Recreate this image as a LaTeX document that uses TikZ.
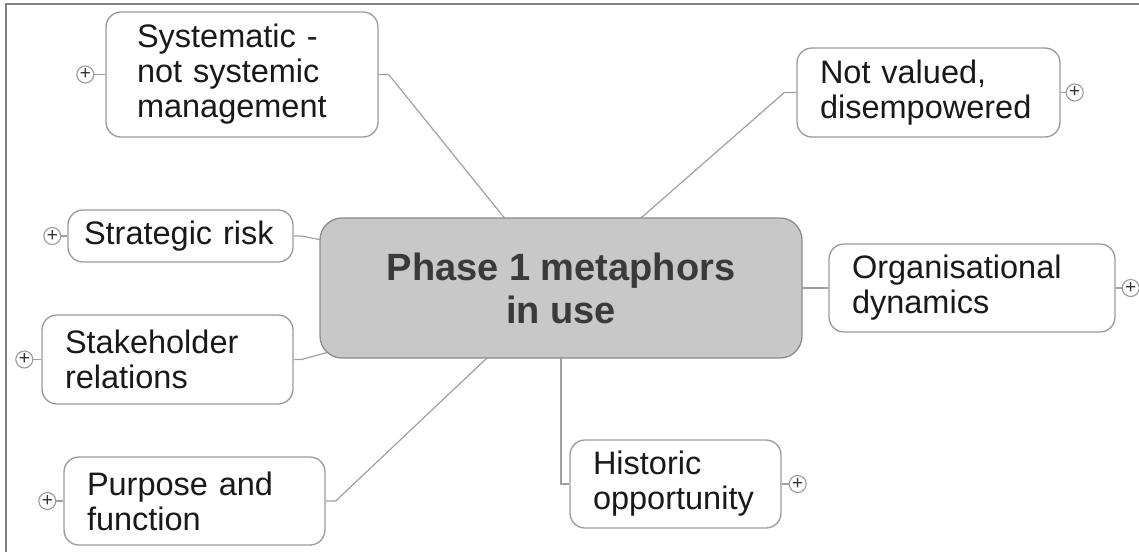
\documentclass[tikz,border=0pt]{standalone}
\usepackage{fontspec}
\setmainfont{Liberation Sans}
\usepackage{tikz}
\usetikzlibrary{positioning,backgrounds}
\definecolor{boxline}{HTML}{9A9A9A}
\definecolor{hubline}{HTML}{8C8C8C}
\definecolor{hubfill}{HTML}{C8C8C8}
\definecolor{hubtext}{HTML}{3A3A3A}
\definecolor{linkgray}{HTML}{A0A0A0}
\definecolor{frameline}{HTML}{808080}

\begin{document}
\begin{tikzpicture}[x=1pt,y=-1pt,
  topic/.style={draw=boxline,line width=1.3pt,rounded corners=15pt,fill=white,align=left,inner xsep=23pt,inner ysep=0pt,font=\fontsize{32.5}{35}\selectfont,text=black!90},
  hub/.style={draw=hubline,line width=1.3pt,rounded corners=22pt,fill=hubfill,align=center,minimum width=482pt,minimum height=140pt,font=\fontsize{38}{43}\selectfont\bfseries,text=hubtext},
  expander/.style={circle,draw=boxline,line width=1.1pt,fill=white,minimum size=17pt,inner sep=0pt,font=\fontsize{19}{19}\selectfont,text=black!80},
  link/.style={draw=linkgray,line width=1.2pt}]
\useasboundingbox (0,0) rectangle (1139,552);
\draw [frameline,line width=2pt] (1139,4) -- (6,4) -- (6,552);

\node (hub) [hub] at (561,288) {Phase 1 metaphors\\in use};

\node (sys) [topic,inner xsep=31pt,text width=210pt,minimum height=125pt] at (242,74.5) {Systematic -\\not systemic\\management};
\node (notval) [topic,text width=217pt,minimum height=89pt] at (928.5,92.5) {Not valued,\\disempowered};
\node (strat) [topic,inner xsep=16pt,text width=193pt,minimum height=52pt] at (180.5,236) {Strategic risk};
\node (org) [topic,text width=240pt,minimum height=88pt] at (972,288) {Organisational\\dynamics};
\node (stake) [topic,text width=205pt,minimum height=89pt] at (167.5,359.5) {Stakeholder\\relations};
\node (purp) [topic,text width=215pt,minimum height=88pt] at (194.5,501) {Purpose and\\function};
\node (hist) [topic,text width=165pt,minimum height=88pt] at (675.5,484) {Historic\\opportunity};

\node (sysx) [expander,left=11pt of sys] {+};
\node (notvalx) [expander,right=5pt of notval] {+};
\node (stratx) [expander,left=6pt of strat] {+};
\node (orgx) [expander,right=6pt of org] {+};
\node (stakex) [expander,left=8pt of stake] {+};
\node (purpx) [expander,left=7pt of purp] {+};
\node (histx) [expander,right=7pt of hist] {+};

\draw [link] (sysx) -- (sys);
\draw [link] (notvalx) -- (notval);
\draw [link] (stratx) -- (strat);
\draw [link] (orgx) -- (org);
\draw [link] (stakex) -- (stake);
\draw [link] (purpx) -- (purp);
\draw [link] (histx) -- (hist);

\begin{scope}[on background layer]
\draw [link] (sys.east) -- ++(10,0) -- (hub.center);
\draw [link] (notval.west) -- ++(-12,0) -- (hub.center);
\draw [link] (strat.east) -- ++(8,0) -- (hub.center);
\draw [link] (org.west) -- (hub.center);
\draw [link] (stake.east) -- ++(8,0) -- (hub.center);
\draw [link] (purp.east) -- ++(10,0) -- (hub.center);
\draw [link] (hub.center) |- (hist.west);
\end{scope}
\end{tikzpicture}
\end{document}
